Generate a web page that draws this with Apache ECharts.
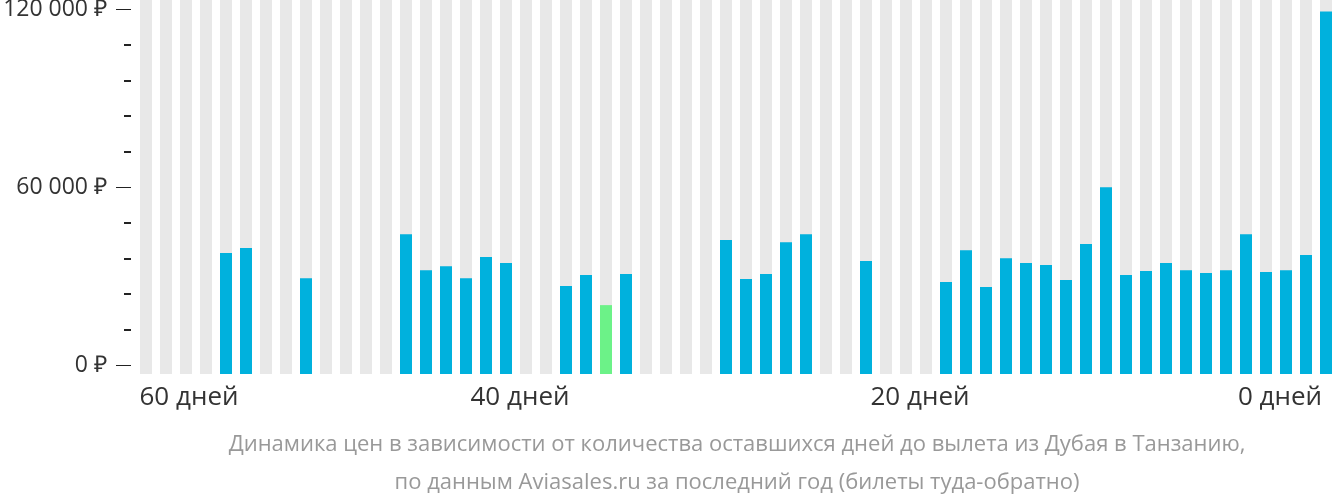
<!DOCTYPE html>
<html><head><meta charset="utf-8">
<script src="https://cdn.jsdelivr.net/npm/echarts@6/dist/echarts.min.js"></script>
<style>html,body{margin:0;padding:0;background:#fff}#c{width:1332px;height:502px}</style>
</head><body><div id="c"></div>
<script>
const days = [59,58,57,56,55,54,53,52,51,50,49,48,47,46,45,44,43,42,41,40,
  39,38,37,36,35,34,33,32,31,30,29,28,27,26,25,24,23,22,21,20,
  19,18,17,16,15,14,13,12,11,10,9,8,7,6,5,4,3,2,1,0];
const prices = [null,null,null,null,37750,39450,null,null,29300,null,
  null,null,null,44150,32000,33350,29300,36400,34400,null,
  null,26650,30350,20200,30700,null,null,null,null,42150,
  29000,30700,41450,44150,null,null,35050,null,null,null,
  28000,38750,26300,36050,34400,33700,28650,40800,60000,30350,
  31700,34400,32000,31000,32000,44150,31350,32000,37100,119300];
const yTickValues = [0, 60000, 120000];
const xTickDays = [0, 20, 40, 60];
const captionLines = [
  'Динамика цен в зависимости от количества оставшихся дней до вылета из Дубая в Танзанию,',
  'по данным Aviasales.ru за последний год (билеты туда-обратно)'
];

const BLUE = '#00b1dd', GREEN = '#6cf288', GREY = '#e8e8e8';
const minPrice = Math.min(...prices.filter(v => v != null));
const fmt = v => String(v).replace(/\B(?=(\d{3})+(?!\d))/g, ' ') + ' ₽';
const FONT = 'Open Sans';

const chart = echarts.init(document.getElementById('c'), null, {renderer: 'canvas'});
chart.setOption({
  animation: false,
  title: {
    text: captionLines.join('\n'),
    left: 732, top: 421, textAlign: 'center',
    textStyle: {fontFamily: FONT, fontSize: 22, fontWeight: 'normal', color: '#999', lineHeight: 38}
  },
  grid: [
    {left: 136, width: 1200, top: 0, bottom: 128, outerBoundsMode: 'none', containLabel: false},
    {left: 131, right: 0, top: 9.33, bottom: 137, outerBoundsMode: 'none', containLabel: false},
    {left: 120, right: 12, top: 0, bottom: 128, outerBoundsMode: 'none', containLabel: false}
  ],
  xAxis: [
    {type: 'category', gridIndex: 0, data: days, show: false},
    {type: 'value', gridIndex: 1, min: 0, max: 1, show: false},
    {type: 'value', gridIndex: 2, inverse: true, min: 0, max: 60, interval: 20,
      axisLine: {show: false}, axisTick: {show: false}, splitLine: {show: false},
      axisLabel: {
        margin: 11, fontFamily: FONT, fontSize: 26, color: '#333',
        formatter: v => xTickDays.includes(v) ? (v === 60 ? '{l|' + v + ' дней}' : v === 0 ? '{r|' + v + ' дней}' : v + ' дней') : '',
        rich: {
          l: {fontFamily: FONT, fontSize: 26, color: '#333', padding: [0, 0, 0, 138]},
          r: {fontFamily: FONT, fontSize: 26, color: '#333', padding: [0, 80, 0, 0]}
        }
      }}
  ],
  yAxis: [
    {type: 'value', gridIndex: 0, min: -3036, max: 123147, startValue: -3036, show: false},
    {type: 'value', gridIndex: 1, min: 0, max: 120000, interval: 60000,
      axisLine: {show: false}, splitLine: {show: false},
      axisTick: {show: true, length: 15, lineStyle: {color: '#222', width: 1}},
      minorTick: {show: true, splitNumber: 5, length: 7, lineStyle: {color: '#222', width: 2}},
      minorSplitLine: {show: false},
      axisLabel: {margin: 24, fontFamily: FONT, fontSize: 23, color: '#333',
        formatter: v => yTickValues.includes(v) ? fmt(v) : ''}},
    {type: 'value', gridIndex: 2, min: 0, max: 1, show: false}
  ],
  series: [{
    type: 'bar', xAxisIndex: 0, yAxisIndex: 0, data: prices, barWidth: 12,
    showBackground: true, backgroundStyle: {color: GREY},
    itemStyle: {color: p => p.value === minPrice ? GREEN : BLUE},
    silent: true
  }]
});
</script></body></html>
